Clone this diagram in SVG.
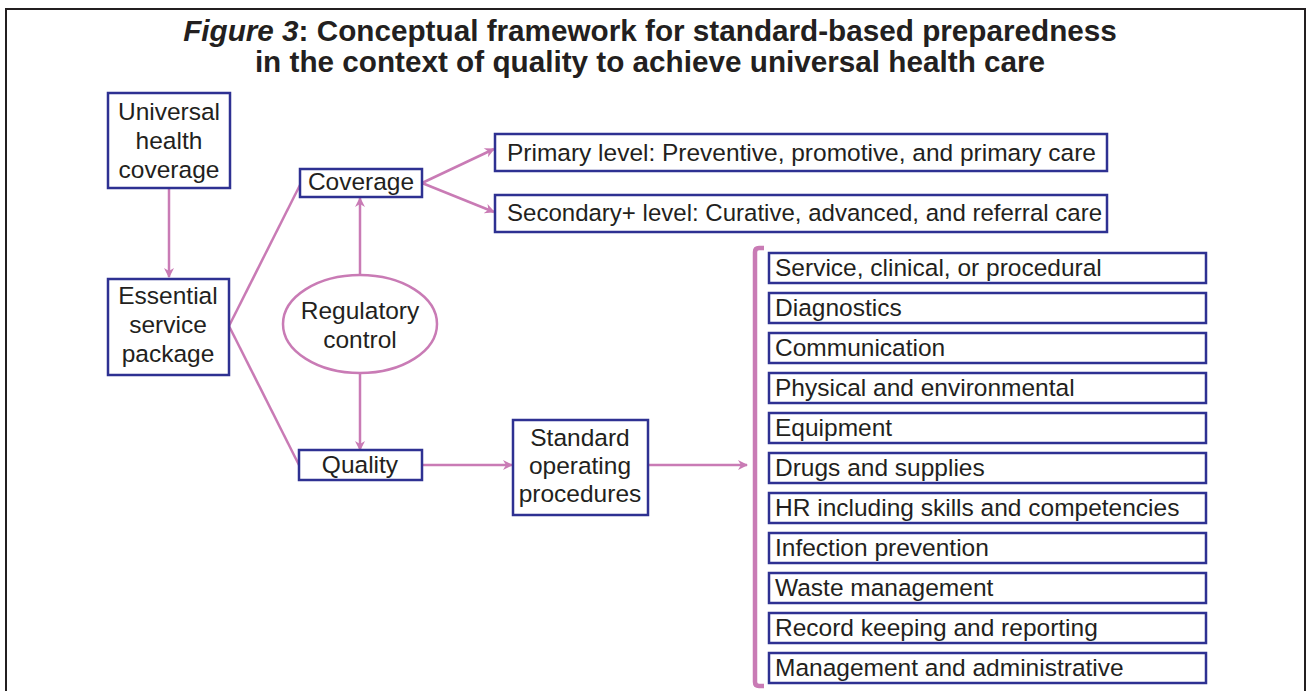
<svg xmlns="http://www.w3.org/2000/svg" width="1306" height="691" viewBox="0 0 1306 691">
<defs>
<style>
.t{font-family:"Liberation Sans",Arial,sans-serif;font-size:24.5px;fill:#231f20}
.c{text-anchor:middle}
.ttl{font-family:"Liberation Sans",Arial,sans-serif;font-size:29.7px;font-weight:bold;fill:#231f20;text-anchor:middle}
.box{fill:#fff;stroke:#2e3192;stroke-width:2.5}
.ln{fill:none;stroke:#c97bb5;stroke-width:2.5}
</style>
<marker id="ah" viewBox="0 0 10 10" refX="9" refY="5" markerWidth="11" markerHeight="10" markerUnits="userSpaceOnUse" orient="auto">
<path d="M0,0 L10,5 L0,10 L3,5 Z" fill="#c97bb5"/>
</marker>
</defs>
<rect x="0" y="0" width="1306" height="691" fill="#fff"/>
<path d="M6,700 V9 H1305 V700" fill="none" stroke="#231f20" stroke-width="2"/>
<text class="ttl" x="650" y="41"><tspan font-style="italic">Figure 3</tspan>:  Conceptual framework for standard-based preparedness</text>
<text class="ttl" x="650" y="72">in the context of quality to achieve universal health care</text>

<g id="connectors">
<line class="ln" x1="169" y1="189" x2="169" y2="277" marker-end="url(#ah)"/>
<line class="ln" x1="229" y1="326" x2="300" y2="185"/>
<line class="ln" x1="229" y1="326" x2="299" y2="465"/>
<line class="ln" x1="422" y1="183" x2="494" y2="149" marker-end="url(#ah)"/>
<line class="ln" x1="422" y1="183" x2="494" y2="212" marker-end="url(#ah)"/>
<line class="ln" x1="360" y1="275" x2="360" y2="198" marker-end="url(#ah)"/>
<line class="ln" x1="360" y1="373" x2="360" y2="450" marker-end="url(#ah)"/>
<line class="ln" x1="422" y1="465" x2="512" y2="465" marker-end="url(#ah)"/>
<line class="ln" x1="648" y1="465" x2="747" y2="465" marker-end="url(#ah)"/>
<path d="M764,248 H759 Q755,248 755,252 V682 Q755,686 759,686 H764" fill="none" stroke="#c97bb5" stroke-width="4.5"/>
</g>

<g id="uhc"><rect class="box" x="108" y="93" width="122" height="95"/>
<text class="t c" x="169" y="120">Universal</text><text class="t c" x="169" y="149">health</text><text class="t c" x="169" y="178">coverage</text></g>
<g id="esp"><rect class="box" x="108" y="279" width="121" height="96"/>
<text class="t c" x="168" y="304">Essential</text><text class="t c" x="168" y="333">service</text><text class="t c" x="168" y="362">package</text></g>
<g id="coverage"><rect class="box" x="300" y="169" width="122" height="28"/>
<text class="t c" x="361" y="190">Coverage</text></g>
<g id="regulatory"><ellipse cx="360" cy="324" rx="77" ry="49" fill="#fff" stroke="#c97bb5" stroke-width="2.5"/>
<text class="t c" x="360" y="319">Regulatory</text><text class="t c" x="360" y="348">control</text></g>
<g id="quality"><rect class="box" x="299" y="450" width="123" height="30"/>
<text class="t c" x="360" y="473">Quality</text></g>
<g id="primary"><rect class="box" x="495" y="134" width="612" height="37"/>
<text class="t" x="507" y="161" textLength="589" lengthAdjust="spacing">Primary level: Preventive, promotive, and primary care</text></g>
<g id="secondary"><rect class="box" x="495" y="195" width="612" height="37"/>
<text class="t" x="507" y="221" textLength="595" lengthAdjust="spacingAndGlyphs">Secondary+ level: Curative, advanced, and referral care</text></g>
<g id="sop"><rect class="box" x="513" y="420" width="135" height="95"/>
<text class="t c" x="580" y="446">Standard</text><text class="t c" x="580" y="474">operating</text><text class="t c" x="580" y="502">procedures</text></g>

<g id="list">
<g id="l1"><rect class="box" x="769" y="253" width="437" height="30"/><text class="t" x="775" y="276">Service, clinical, or procedural</text></g>
<g id="l2"><rect class="box" x="769" y="293" width="437" height="30"/><text class="t" x="775" y="316">Diagnostics</text></g>
<g id="l3"><rect class="box" x="769" y="333" width="437" height="30"/><text class="t" x="775" y="356">Communication</text></g>
<g id="l4"><rect class="box" x="769" y="373" width="437" height="30"/><text class="t" x="775" y="396">Physical and environmental</text></g>
<g id="l5"><rect class="box" x="769" y="413" width="437" height="30"/><text class="t" x="775" y="436">Equipment</text></g>
<g id="l6"><rect class="box" x="769" y="453" width="437" height="30"/><text class="t" x="775" y="476">Drugs and supplies</text></g>
<g id="l7"><rect class="box" x="769" y="493" width="437" height="30"/><text class="t" x="775" y="516">HR including skills and competencies</text></g>
<g id="l8"><rect class="box" x="769" y="533" width="437" height="30"/><text class="t" x="775" y="556">Infection prevention</text></g>
<g id="l9"><rect class="box" x="769" y="573" width="437" height="30"/><text class="t" x="775" y="596">Waste management</text></g>
<g id="l10"><rect class="box" x="769" y="613" width="437" height="30"/><text class="t" x="775" y="636">Record keeping and reporting</text></g>
<g id="l11"><rect class="box" x="769" y="653" width="437" height="30"/><text class="t" x="775" y="676">Management and administrative</text></g>
</g>
</svg>
